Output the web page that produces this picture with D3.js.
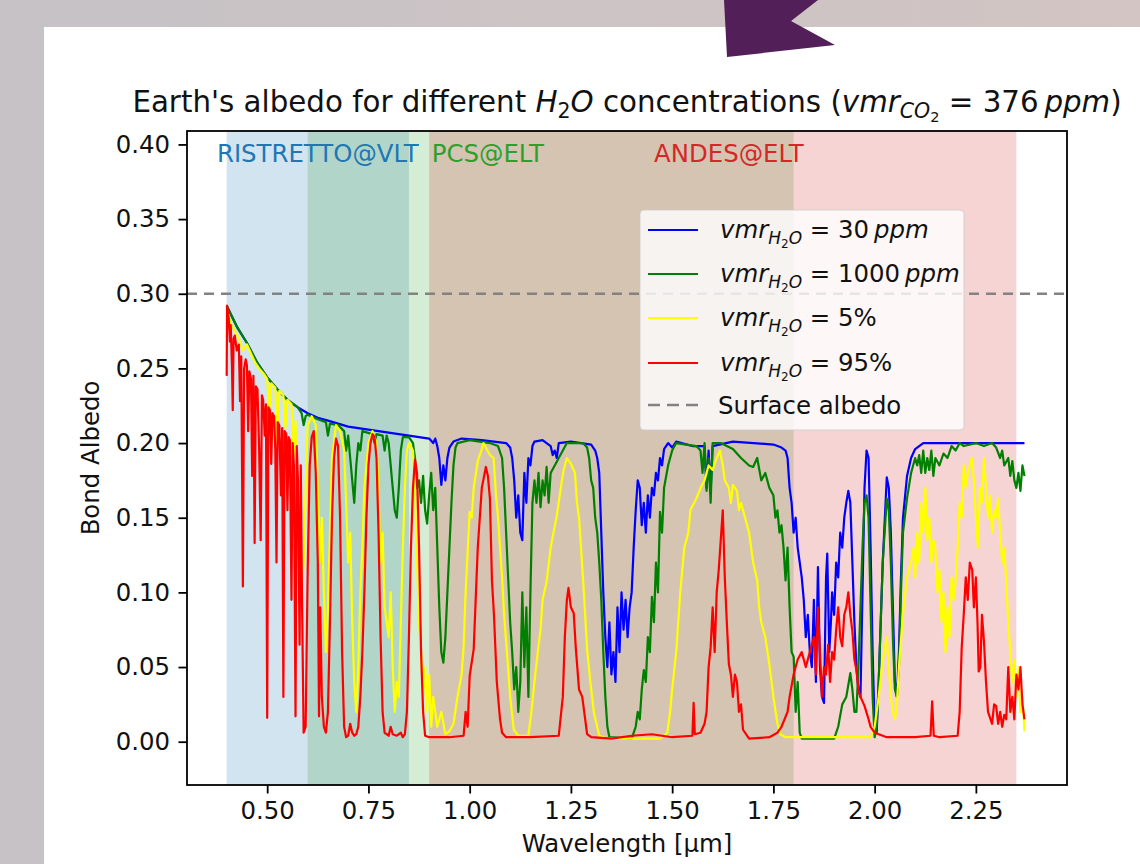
<!DOCTYPE html>
<html>
<head>
<meta charset="utf-8">
<script src="https://cdn.jsdelivr.net/npm/d3@7"></script>
<style>
html, body { margin: 0; padding: 0; }
body { width: 1140px; height: 864px; overflow: hidden; font-family: "DejaVu Sans", sans-serif; }
</style>
</head>
<body>
<svg id="fig" width="1140" height="864"></svg>
<script>
/* ---- chart values ---- */
const xTicks = [0.50, 0.75, 1.00, 1.25, 1.50, 1.75, 2.00, 2.25];
const yTicks = [0.00, 0.05, 0.10, 0.15, 0.20, 0.25, 0.30, 0.35, 0.40];

const spanNames = ["RISTRETTO@VLT", "PCS@ELT", "ANDES@ELT"];
const spanStart = [0.40, 0.60, 0.90];
const spanEnd = [0.85, 1.80, 2.35];
const spanLabelAt = [0.625, 1.045, 1.64];
const spanColors = ["#1f77b4", "#2ca02c", "#d62728"];

const surfaceAlbedo = 0.30;

const seriesValues = ["30", "1000", "5%", "95%"];
const seriesUnits = ["ppm", "ppm", "", ""];
const seriesColors = ["#0000ff", "#008000", "#ffff00", "#ff0000"];

// vmr H2O = 30 ppm  [wavelength µm, bond albedo]
const vmr30ppm = [
  [0.400,0.292],[0.425,0.278],[0.450,0.267],[0.475,0.254],[0.500,0.244],[0.525,0.236],[0.550,0.229],
  [0.575,0.224],[0.600,0.220],[0.625,0.217],[0.650,0.215],[0.675,0.213],[0.700,0.211],[0.750,0.209],
  [0.800,0.207],[0.850,0.205],[0.900,0.203],[0.910,0.200],[0.915,0.203],[0.920,0.198],[0.925,0.190],
  [0.930,0.172],[0.935,0.185],[0.940,0.175],[0.945,0.190],[0.950,0.197],[0.960,0.201],[0.980,0.203],
  [1.030,0.202],[1.090,0.200],[1.100,0.197],[1.105,0.190],[1.110,0.175],[1.115,0.150],[1.120,0.165],
  [1.125,0.140],[1.130,0.135],[1.135,0.180],[1.140,0.160],[1.145,0.190],[1.150,0.185],[1.155,0.198],
  [1.160,0.201],[1.180,0.202],[1.200,0.198],[1.205,0.192],[1.210,0.195],[1.215,0.190],[1.220,0.200],
  [1.250,0.201],[1.300,0.199],[1.310,0.195],[1.315,0.190],[1.320,0.180],[1.325,0.140],[1.330,0.100],
  [1.335,0.070],[1.340,0.050],[1.345,0.080],[1.350,0.045],[1.355,0.060],[1.360,0.040],[1.365,0.090],
  [1.370,0.060],[1.375,0.100],[1.380,0.075],[1.385,0.095],[1.390,0.070],[1.395,0.090],[1.400,0.100],
  [1.405,0.130],[1.410,0.155],[1.415,0.175],[1.420,0.170],[1.425,0.145],[1.430,0.160],[1.435,0.140],
  [1.440,0.165],[1.445,0.150],[1.450,0.170],[1.455,0.165],[1.460,0.180],[1.465,0.175],[1.470,0.190],
  [1.475,0.185],[1.480,0.196],[1.490,0.200],[1.500,0.197],[1.510,0.201],[1.550,0.198],[1.580,0.198],
  [1.585,0.170],[1.590,0.195],[1.595,0.168],[1.600,0.198],[1.650,0.201],[1.750,0.199],[1.770,0.197],
  [1.780,0.195],[1.785,0.190],[1.790,0.170],[1.795,0.160],[1.800,0.140],[1.805,0.150],[1.810,0.130],
  [1.815,0.120],[1.820,0.110],[1.825,0.095],[1.830,0.070],[1.835,0.085],[1.840,0.060],[1.845,0.050],
  [1.850,0.095],[1.855,0.040],[1.860,0.117],[1.865,0.050],[1.870,0.030],[1.875,0.026],[1.880,0.110],
  [1.883,0.126],[1.888,0.060],[1.892,0.080],[1.895,0.100],[1.900,0.085],[1.905,0.120],[1.910,0.110],
  [1.915,0.140],[1.920,0.130],[1.925,0.150],[1.930,0.160],[1.935,0.168],[1.940,0.160],[1.945,0.120],
  [1.950,0.080],[1.955,0.050],[1.960,0.035],[1.965,0.030],[1.970,0.100],[1.975,0.170],[1.980,0.195],
  [1.985,0.190],[1.990,0.130],[1.995,0.060],[2.000,0.010],[2.005,0.006],[2.010,0.040],[2.020,0.120],
  [2.030,0.177],[2.035,0.170],[2.040,0.140],[2.045,0.090],[2.050,0.040],[2.055,0.030],[2.060,0.060],
  [2.065,0.110],[2.070,0.150],[2.080,0.178],[2.090,0.190],[2.100,0.196],[2.120,0.200],[2.200,0.200],
  [2.370,0.200]
];

// vmr H2O = 1000 ppm
const vmr1000ppm = [
  [0.400,0.292],[0.425,0.278],[0.450,0.267],[0.475,0.254],[0.500,0.244],[0.525,0.236],[0.550,0.229],
  [0.575,0.224],[0.585,0.220],[0.590,0.212],[0.595,0.218],[0.600,0.219],[0.625,0.216],[0.645,0.214],
  [0.650,0.205],[0.655,0.213],[0.675,0.212],[0.690,0.208],[0.695,0.195],[0.700,0.205],[0.705,0.190],
  [0.710,0.175],[0.715,0.160],[0.720,0.185],[0.725,0.200],[0.730,0.195],[0.735,0.208],[0.760,0.206],
  [0.765,0.200],[0.770,0.206],[0.785,0.205],[0.790,0.195],[0.795,0.205],[0.800,0.200],[0.805,0.185],
  [0.810,0.170],[0.815,0.155],[0.820,0.150],[0.825,0.170],[0.830,0.195],[0.835,0.204],[0.850,0.204],
  [0.860,0.200],[0.865,0.190],[0.870,0.170],[0.875,0.175],[0.880,0.160],[0.885,0.178],[0.890,0.155],
  [0.895,0.146],[0.900,0.165],[0.905,0.180],[0.910,0.155],[0.915,0.170],[0.920,0.130],[0.925,0.090],
  [0.930,0.060],[0.935,0.053],[0.940,0.070],[0.945,0.100],[0.950,0.130],[0.955,0.160],[0.960,0.185],
  [0.965,0.197],[0.970,0.200],[1.000,0.202],[1.050,0.200],[1.070,0.198],[1.080,0.190],[1.085,0.170],
  [1.090,0.140],[1.095,0.110],[1.100,0.080],[1.105,0.060],[1.110,0.035],[1.115,0.050],[1.120,0.020],
  [1.125,0.040],[1.130,0.100],[1.135,0.050],[1.140,0.090],[1.145,0.030],[1.150,0.100],[1.155,0.160],
  [1.160,0.175],[1.165,0.160],[1.170,0.180],[1.175,0.157],[1.180,0.175],[1.185,0.165],[1.190,0.184],
  [1.195,0.160],[1.200,0.180],[1.210,0.185],[1.220,0.190],[1.230,0.195],[1.240,0.200],[1.280,0.200],
  [1.290,0.197],[1.295,0.190],[1.300,0.175],[1.305,0.170],[1.310,0.150],[1.315,0.140],[1.320,0.120],
  [1.325,0.095],[1.330,0.060],[1.335,0.030],[1.340,0.010],[1.345,0.003],[1.400,0.002],[1.410,0.010],
  [1.415,0.020],[1.420,0.015],[1.425,0.035],[1.430,0.048],[1.435,0.040],[1.440,0.070],[1.445,0.060],
  [1.450,0.097],[1.455,0.080],[1.460,0.120],[1.465,0.100],[1.470,0.154],[1.475,0.140],[1.480,0.170],
  [1.490,0.185],[1.500,0.195],[1.510,0.200],[1.560,0.198],[1.570,0.195],[1.575,0.180],[1.580,0.200],
  [1.585,0.168],[1.590,0.190],[1.595,0.160],[1.600,0.200],[1.620,0.200],[1.650,0.196],[1.670,0.190],
  [1.690,0.185],[1.700,0.184],[1.710,0.190],[1.720,0.175],[1.730,0.180],[1.740,0.170],[1.750,0.165],
  [1.755,0.150],[1.760,0.155],[1.765,0.140],[1.770,0.145],[1.775,0.130],[1.780,0.108],[1.785,0.130],
  [1.790,0.090],[1.795,0.060],[1.800,0.057],[1.805,0.020],[1.810,0.040],[1.815,0.006],[1.820,0.002],
  [1.900,0.002],[1.910,0.010],[1.920,0.025],[1.930,0.030],[1.940,0.046],[1.945,0.035],[1.950,0.020],
  [1.955,0.020],[1.960,0.050],[1.965,0.090],[1.970,0.130],[1.975,0.160],[1.980,0.165],[1.985,0.150],
  [1.990,0.090],[1.995,0.030],[2.000,0.003],[2.005,0.010],[2.010,0.040],[2.020,0.120],[2.030,0.163],
  [2.035,0.155],[2.040,0.120],[2.045,0.070],[2.050,0.035],[2.055,0.030],[2.060,0.050],[2.065,0.100],
  [2.070,0.140],[2.080,0.163],[2.090,0.180],[2.100,0.190],[2.105,0.185],[2.110,0.192],[2.115,0.180],
  [2.120,0.195],[2.125,0.180],[2.130,0.190],[2.135,0.182],[2.140,0.195],[2.145,0.178],[2.150,0.190],
  [2.160,0.185],[2.170,0.193],[2.180,0.190],[2.190,0.198],[2.200,0.195],[2.210,0.200],[2.220,0.198],
  [2.250,0.200],[2.270,0.198],[2.290,0.200],[2.300,0.197],[2.310,0.190],[2.315,0.195],[2.320,0.185],
  [2.330,0.190],[2.335,0.178],[2.340,0.188],[2.345,0.175],[2.350,0.170],[2.355,0.180],[2.360,0.168],
  [2.365,0.185],[2.370,0.178]
];

// vmr H2O = 5 %
const vmr5pct = [
  [0.400,0.290],[0.410,0.280],[0.420,0.275],[0.430,0.270],[0.440,0.262],[0.450,0.266],[0.460,0.260],
  [0.470,0.254],[0.480,0.250],[0.490,0.247],[0.500,0.243],[0.505,0.220],[0.510,0.240],[0.520,0.237],
  [0.525,0.200],[0.530,0.235],[0.540,0.232],[0.545,0.210],[0.550,0.229],[0.560,0.226],[0.565,0.190],
  [0.570,0.215],[0.575,0.140],[0.580,0.160],[0.585,0.100],[0.590,0.120],[0.595,0.170],[0.600,0.212],
  [0.610,0.218],[0.620,0.212],[0.625,0.170],[0.630,0.120],[0.635,0.150],[0.640,0.100],[0.645,0.060],
  [0.650,0.090],[0.655,0.140],[0.660,0.190],[0.670,0.212],[0.680,0.208],[0.690,0.195],[0.695,0.160],
  [0.700,0.120],[0.705,0.140],[0.710,0.080],[0.715,0.040],[0.720,0.020],[0.725,0.050],[0.730,0.100],
  [0.735,0.130],[0.740,0.170],[0.750,0.200],[0.760,0.208],[0.770,0.200],[0.775,0.170],[0.780,0.120],
  [0.785,0.140],[0.790,0.090],[0.800,0.070],[0.805,0.100],[0.810,0.050],[0.815,0.020],[0.820,0.040],
  [0.825,0.030],[0.830,0.080],[0.835,0.130],[0.840,0.170],[0.845,0.195],[0.850,0.200],[0.860,0.195],
  [0.865,0.170],[0.870,0.120],[0.875,0.080],[0.880,0.060],[0.885,0.030],[0.890,0.050],[0.895,0.020],
  [0.900,0.045],[0.905,0.010],[0.910,0.030],[0.920,0.010],[0.930,0.020],[0.940,0.005],[0.950,0.007],
  [0.960,0.012],[0.970,0.030],[0.980,0.045],[0.985,0.063],[0.990,0.100],[1.000,0.154],[1.005,0.150],
  [1.010,0.170],[1.020,0.188],[1.030,0.196],[1.034,0.200],[1.040,0.197],[1.050,0.192],[1.059,0.190],
  [1.065,0.165],[1.070,0.150],[1.075,0.130],[1.080,0.110],[1.085,0.085],[1.092,0.060],[1.100,0.030],
  [1.109,0.008],[1.120,0.004],[1.145,0.004],[1.152,0.019],[1.160,0.040],[1.169,0.062],[1.175,0.075],
  [1.180,0.095],[1.190,0.107],[1.200,0.130],[1.207,0.140],[1.215,0.151],[1.225,0.170],[1.232,0.182],
  [1.240,0.190],[1.250,0.186],[1.260,0.180],[1.265,0.160],[1.270,0.150],[1.275,0.130],[1.282,0.100],
  [1.290,0.062],[1.298,0.040],[1.307,0.019],[1.320,0.004],[1.340,0.002],[1.470,0.002],[1.480,0.004],
  [1.488,0.006],[1.495,0.020],[1.500,0.035],[1.510,0.060],[1.515,0.080],[1.520,0.100],[1.530,0.130],
  [1.540,0.140],[1.545,0.155],[1.560,0.163],[1.570,0.170],[1.580,0.175],[1.590,0.185],[1.600,0.182],
  [1.610,0.190],[1.618,0.195],[1.625,0.185],[1.630,0.175],[1.640,0.170],[1.645,0.160],[1.650,0.172],
  [1.660,0.168],[1.665,0.155],[1.670,0.160],[1.680,0.150],[1.690,0.140],[1.700,0.120],[1.710,0.108],
  [1.715,0.090],[1.720,0.080],[1.730,0.070],[1.740,0.052],[1.750,0.030],[1.760,0.012],[1.767,0.005],
  [1.780,0.003],[1.990,0.003],[2.000,0.010],[2.010,0.030],[2.020,0.055],[2.030,0.070],[2.035,0.050],
  [2.040,0.030],[2.045,0.020],[2.050,0.015],[2.055,0.025],[2.060,0.050],[2.070,0.086],[2.080,0.110],
  [2.090,0.120],[2.096,0.130],[2.100,0.110],[2.105,0.140],[2.110,0.120],[2.115,0.160],[2.120,0.140],
  [2.125,0.170],[2.130,0.135],[2.135,0.150],[2.140,0.120],[2.145,0.135],[2.150,0.130],[2.155,0.100],
  [2.160,0.115],[2.165,0.080],[2.170,0.100],[2.175,0.060],[2.180,0.090],[2.185,0.070],[2.190,0.110],
  [2.195,0.095],[2.200,0.107],[2.205,0.130],[2.210,0.160],[2.215,0.150],[2.220,0.185],[2.225,0.170],
  [2.230,0.180],[2.240,0.190],[2.245,0.175],[2.250,0.150],[2.255,0.130],[2.260,0.170],[2.265,0.160],
  [2.270,0.190],[2.275,0.170],[2.280,0.150],[2.285,0.165],[2.290,0.140],[2.295,0.155],[2.300,0.150],
  [2.305,0.163],[2.310,0.140],[2.315,0.120],[2.320,0.130],[2.325,0.107],[2.330,0.080],[2.335,0.060],
  [2.340,0.040],[2.345,0.055],[2.350,0.030],[2.355,0.050],[2.360,0.020],[2.365,0.030],[2.370,0.007]
];

// vmr H2O = 95 %
const vmr95pct = [
  [0.400,0.245],[0.401,0.292],[0.405,0.284],[0.408,0.268],[0.410,0.279],[0.413,0.252],[0.415,0.222],
  [0.417,0.270],[0.420,0.272],[0.425,0.262],[0.430,0.266],[0.433,0.228],[0.436,0.258],[0.440,0.104],
  [0.443,0.250],[0.447,0.256],[0.450,0.252],[0.453,0.208],[0.456,0.248],[0.460,0.243],[0.463,0.178],
  [0.466,0.245],[0.469,0.133],[0.472,0.238],[0.476,0.236],[0.480,0.198],[0.484,0.135],[0.487,0.232],
  [0.490,0.229],[0.494,0.205],[0.497,0.226],[0.500,0.016],[0.503,0.224],[0.507,0.222],[0.510,0.186],
  [0.513,0.220],[0.517,0.218],[0.520,0.196],[0.523,0.120],[0.526,0.214],[0.530,0.212],[0.534,0.165],
  [0.537,0.210],[0.540,0.030],[0.543,0.208],[0.547,0.206],[0.550,0.155],[0.553,0.204],[0.556,0.202],
  [0.560,0.095],[0.563,0.200],[0.566,0.185],[0.570,0.017],[0.573,0.198],[0.576,0.175],[0.580,0.065],
  [0.583,0.185],[0.586,0.095],[0.590,0.006],[0.595,0.010],[0.600,0.115],[0.605,0.185],[0.610,0.204],
  [0.615,0.208],[0.620,0.180],[0.625,0.120],[0.628,0.017],[0.631,0.090],[0.635,0.030],[0.640,0.010],
  [0.645,0.006],[0.650,0.020],[0.655,0.080],[0.660,0.150],[0.665,0.190],[0.670,0.203],[0.675,0.198],
  [0.680,0.150],[0.685,0.060],[0.690,0.010],[0.695,0.003],[0.700,0.004],[0.705,0.012],[0.710,0.006],
  [0.715,0.004],[0.720,0.005],[0.725,0.010],[0.730,0.030],[0.735,0.060],[0.740,0.100],[0.745,0.150],
  [0.750,0.185],[0.755,0.200],[0.760,0.206],[0.765,0.204],[0.770,0.190],[0.775,0.140],[0.780,0.070],
  [0.785,0.020],[0.790,0.006],[0.800,0.004],[0.805,0.010],[0.810,0.005],[0.820,0.004],[0.830,0.006],
  [0.835,0.003],[0.840,0.005],[0.845,0.020],[0.850,0.070],[0.855,0.130],[0.860,0.170],[0.865,0.189],
  [0.870,0.180],[0.875,0.130],[0.880,0.060],[0.885,0.020],[0.890,0.004],[0.900,0.003],[0.950,0.003],
  [0.985,0.004],[0.990,0.020],[0.995,0.010],[1.000,0.044],[1.010,0.062],[1.020,0.130],[1.030,0.170],
  [1.040,0.184],[1.045,0.178],[1.050,0.163],[1.055,0.108],[1.060,0.085],[1.067,0.040],[1.075,0.015],
  [1.080,0.006],[1.090,0.003],[1.150,0.003],[1.220,0.004],[1.230,0.030],[1.235,0.070],[1.240,0.095],
  [1.244,0.103],[1.250,0.090],[1.257,0.086],[1.262,0.063],[1.270,0.035],[1.278,0.030],[1.290,0.005],
  [1.300,0.003],[1.350,0.002],[1.400,0.004],[1.450,0.005],[1.500,0.003],[1.550,0.004],[1.553,0.026],
  [1.556,0.005],[1.570,0.006],[1.580,0.012],[1.585,0.020],[1.590,0.050],[1.595,0.063],[1.600,0.090],
  [1.605,0.060],[1.610,0.100],[1.615,0.115],[1.620,0.135],[1.625,0.155],[1.630,0.110],[1.635,0.080],
  [1.640,0.052],[1.645,0.045],[1.650,0.030],[1.655,0.045],[1.660,0.040],[1.665,0.020],[1.670,0.025],
  [1.675,0.008],[1.690,0.002],[1.740,0.003],[1.760,0.006],[1.770,0.010],[1.785,0.020],[1.790,0.030],
  [1.800,0.045],[1.810,0.055],[1.820,0.060],[1.830,0.050],[1.840,0.060],[1.850,0.070],[1.855,0.045],
  [1.860,0.090],[1.865,0.060],[1.870,0.030],[1.875,0.050],[1.880,0.045],[1.885,0.065],[1.890,0.040],
  [1.895,0.060],[1.900,0.055],[1.905,0.075],[1.910,0.090],[1.915,0.070],[1.920,0.064],[1.925,0.085],
  [1.930,0.090],[1.935,0.100],[1.940,0.085],[1.945,0.074],[1.950,0.055],[1.955,0.048],[1.960,0.035],
  [1.965,0.030],[1.975,0.024],[1.985,0.015],[1.990,0.010],[2.000,0.006],[2.030,0.003],[2.100,0.003],
  [2.138,0.004],[2.142,0.027],[2.146,0.004],[2.160,0.003],[2.205,0.004],[2.210,0.020],[2.215,0.063],
  [2.220,0.085],[2.225,0.110],[2.230,0.095],[2.235,0.120],[2.241,0.115],[2.245,0.090],[2.250,0.110],
  [2.254,0.080],[2.257,0.047],[2.261,0.050],[2.265,0.085],[2.270,0.067],[2.275,0.040],[2.280,0.020],
  [2.290,0.012],[2.295,0.025],[2.300,0.024],[2.305,0.012],[2.310,0.020],[2.315,0.010],[2.320,0.018],
  [2.325,0.015],[2.330,0.050],[2.335,0.020],[2.340,0.030],[2.345,0.015],[2.350,0.045],[2.355,0.035],
  [2.360,0.050],[2.365,0.025],[2.370,0.015]
];

const seriesData = [vmr30ppm, vmr1000ppm, vmr5pct, vmr95pct];

/* ---- figure set up ---- */
const svg = d3.select("#fig");
const box = {left: 187, top: 131, right: 1067, bottom: 785};
const baseFont = 24.4;   // 10pt at this picture's scale
const titleFont = 29.3;  // 12pt

/* slide background behind the figure */
const defs = svg.append("defs");
const grad = defs.append("linearGradient").attr("id", "slideBg")
    .attr("x1", "0%").attr("x2", "100%").attr("y1", "0%").attr("y2", "0%");
grad.append("stop").attr("offset", "0%").attr("stop-color", "#c6c2c6");
grad.append("stop").attr("offset", "100%").attr("stop-color", "#d2c5c3");
svg.append("rect").attr("width", 1140).attr("height", 864).attr("fill", "url(#slideBg)");
svg.append("rect").attr("x", 44).attr("y", 27).attr("width", 1096).attr("height", 837).attr("fill", "#ffffff");
svg.append("polygon")
    .attr("points", [[724, 0], [818, 0], [791, 21], [835, 45], [727, 57]].map(p => p.join(",")).join(" "))
    .attr("fill", "#521f58");

defs.append("clipPath").attr("id", "plotClip")
  .append("rect").attr("x", box.left).attr("y", box.top)
  .attr("width", box.right - box.left).attr("height", box.bottom - box.top);

/* scales */
const x = d3.scaleLinear().domain([0.302, 2.475]).range([box.left, box.right]);
const y = d3.scaleLinear().domain([-0.029, 0.409]).range([box.bottom, box.top]);

/* instrument spans */
const plot = svg.append("g").attr("clip-path", "url(#plotClip)");
plot.selectAll(".span")
  .data(spanNames)
  .join("rect")
    .attr("class", "span")
    .attr("x", (d, i) => x(spanStart[i]))
    .attr("width", (d, i) => x(spanEnd[i]) - x(spanStart[i]))
    .attr("y", box.top)
    .attr("height", box.bottom - box.top)
    .attr("fill", (d, i) => spanColors[i])
    .attr("fill-opacity", 0.2);

/* surface albedo reference */
plot.append("line")
    .attr("x1", box.left).attr("x2", box.right)
    .attr("y1", y(surfaceAlbedo)).attr("y2", y(surfaceAlbedo))
    .attr("stroke", "#828282").attr("stroke-width", 2.5)
    .attr("stroke-dasharray", "10,7");

/* spectra */
const line = d3.line().x(d => x(d[0])).y(d => y(d[1]));
plot.selectAll(".spectrum")
  .data(seriesData)
  .join("path")
    .attr("class", "spectrum")
    .attr("d", line)
    .attr("fill", "none")
    .attr("stroke", (d, i) => seriesColors[i])
    .attr("stroke-width", 2.2)
    .attr("stroke-linejoin", "round");

/* span labels */
svg.selectAll(".spanLabel")
  .data(spanNames)
  .join("text")
    .attr("class", "spanLabel")
    .attr("x", (d, i) => x(spanLabelAt[i]))
    .attr("y", 162)
    .attr("text-anchor", "middle")
    .attr("fill", (d, i) => spanColors[i])
    .style("font-size", baseFont + "px")
    .text(d => d);

/* axes */
const fmt = d3.format(".2f");
const xAxis = svg.append("g").attr("transform", `translate(0,${box.bottom})`)
    .call(d3.axisBottom(x).tickValues(xTicks).tickFormat(fmt).tickSize(8.5).tickPadding(8));
const yAxis = svg.append("g").attr("transform", `translate(${box.left},0)`)
    .call(d3.axisLeft(y).tickValues(yTicks).tickFormat(fmt).tickSize(8.5).tickPadding(8.5));
[xAxis, yAxis].forEach(g => {
  g.select(".domain").remove();
  g.selectAll(".tick line").attr("stroke", "#000").attr("stroke-width", 1.8);
  g.selectAll(".tick text").attr("fill", "#111")
    .style("font-family", "'DejaVu Sans', sans-serif").style("font-size", baseFont + "px");
});

svg.append("rect")
    .attr("x", box.left).attr("y", box.top)
    .attr("width", box.right - box.left).attr("height", box.bottom - box.top)
    .attr("fill", "none").attr("stroke", "#000").attr("stroke-width", 1.8);

svg.append("text")
    .attr("x", (box.left + box.right) / 2).attr("y", 852)
    .attr("text-anchor", "middle").attr("fill", "#111")
    .style("font-size", baseFont + "px")
    .text("Wavelength [\u00b5m]");

svg.append("text")
    .attr("transform", `translate(99,${(box.top + box.bottom) / 2}) rotate(-90)`)
    .attr("text-anchor", "middle").attr("fill", "#111")
    .style("font-size", baseFont + "px")
    .text("Bond Albedo");

/* title with math parts */
const title = svg.append("text")
    .attr("x", (box.left + box.right) / 2).attr("y", 112)
    .attr("text-anchor", "middle").attr("fill", "#111")
    .style("font-size", titleFont + "px");
title.append("tspan").text("Earth's albedo for different ");
title.append("tspan").style("font-style", "italic").text("H");
title.append("tspan").attr("dy", 6).style("font-size", "20.5px").text("2");
title.append("tspan").attr("dy", -6).style("font-style", "italic").text("O");
title.append("tspan").text(" concentrations (");
title.append("tspan").style("font-style", "italic").text("vmr");
title.append("tspan").attr("dy", 6).style("font-size", "20.5px").style("font-style", "italic").text("CO");
title.append("tspan").attr("dy", 4).style("font-size", "14.5px").text("2");
title.append("tspan").attr("dy", -10).text(" = 376\u2009");
title.append("tspan").style("font-style", "italic").text("ppm");
title.append("tspan").text(")");

/* legend */
const legend = svg.append("g").attr("transform", "translate(640,210)");
legend.append("rect")
    .attr("width", 324).attr("height", 220).attr("rx", 4)
    .attr("fill", "#ffffff").attr("fill-opacity", 0.8)
    .attr("stroke", "#cccccc").attr("stroke-opacity", 0.8);
const rowY = i => [20, 64, 108, 153, 195][i];
seriesColors.forEach((c, i) => {
  legend.append("line")
      .attr("x1", 8).attr("x2", 58).attr("y1", rowY(i)).attr("y2", rowY(i))
      .attr("stroke", c).attr("stroke-width", 2.2);
  const t = legend.append("text").attr("x", 80).attr("y", rowY(i) + 8)
      .attr("fill", "#111").style("font-size", baseFont + "px");
  t.append("tspan").style("font-style", "italic").text("vmr");
  t.append("tspan").attr("dy", 6).style("font-size", "17px").style("font-style", "italic").text("H");
  t.append("tspan").attr("dy", 3.5).style("font-size", "12px").text("2");
  t.append("tspan").attr("dy", -3.5).style("font-size", "17px").style("font-style", "italic").text("O");
  t.append("tspan").attr("dy", -6).text(" = " + seriesValues[i] + (seriesUnits[i] ? "\u2009" : ""));
  if (seriesUnits[i]) t.append("tspan").style("font-style", "italic").text(seriesUnits[i]);
});
legend.append("line")
    .attr("x1", 8).attr("x2", 58).attr("y1", rowY(4)).attr("y2", rowY(4))
    .attr("stroke", "#828282").attr("stroke-width", 2.5).attr("stroke-dasharray", "12,7");
legend.append("text").attr("x", 78).attr("y", rowY(4) + 9)
    .attr("fill", "#111").style("font-size", baseFont + "px").text("Surface albedo");
</script>
</body>
</html>
